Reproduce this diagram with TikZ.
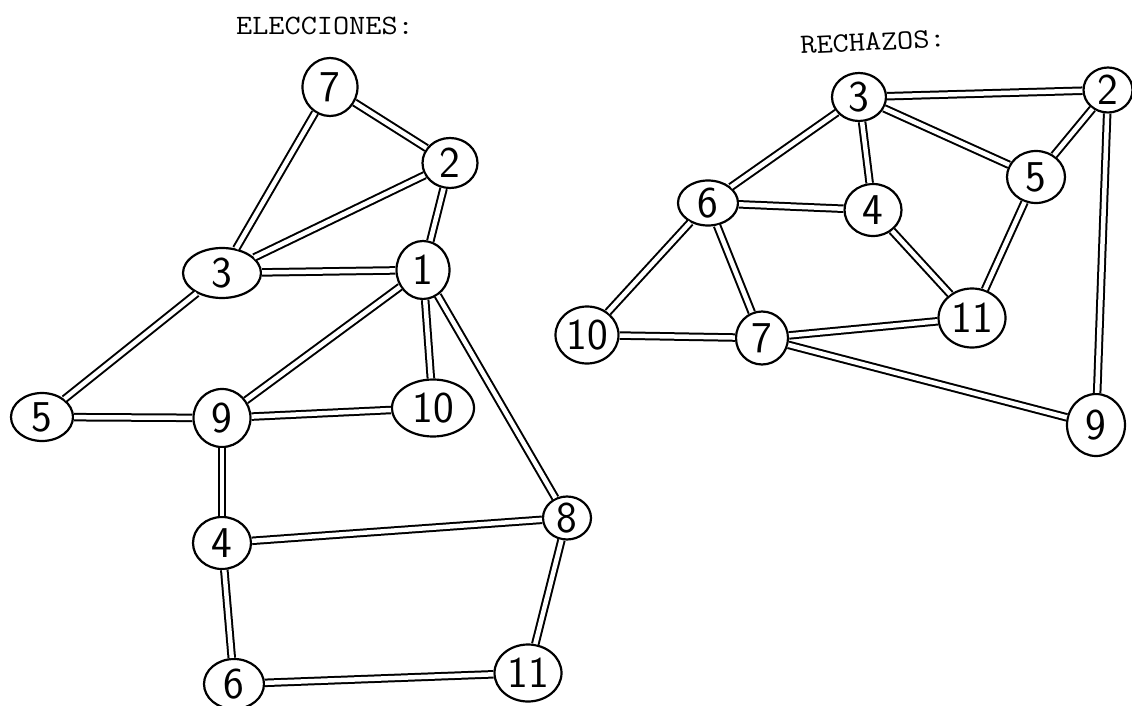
\documentclass[tikz,border=0pt]{standalone}
\usepackage{fontspec}
\usetikzlibrary{shapes.geometric}
\newcommand\vtxnode[6]{\node[vtx,minimum width=#4pt,minimum height=#5pt] (#1) at (#2,#3) {#6};}
\begin{document}
\begin{tikzpicture}[x=1pt,y=-1pt,
  vtx/.style={ellipse, draw=black, line width=2.2pt, fill=white, inner sep=0pt,
    font=\sffamily\fontsize{44}{44}\selectfont},
  edge/.style={draw=black, double=white, line width=2pt, double distance=4.5pt},
  ttl/.style={font=\ttfamily\fontsize{28}{28}\selectfont, xscale=1.12}]
\useasboundingbox (0,0) rectangle (1132,706);
% titles
\node[ttl] (t1) at (325,26) {ELECCIONES:};
\node[ttl, rotate=3] (t2) at (873,42) {RECHAZOS:};
% left graph
\vtxnode{La}{330}{87}{55}{58}{7}
\vtxnode{Lb}{450}{163}{55}{50}{2}
\vtxnode{Lc}{222}{273}{78}{50}{3}
\vtxnode{Ld}{423}{270}{53}{58}{1}
\vtxnode{Le}{42}{417}{62}{48}{5}
\vtxnode{Lf}{222}{418}{57}{58}{9}
\vtxnode{Lg}{433}{408}{82}{57}{10}
\vtxnode{Lh}{222}{543}{58}{52}{4}
\vtxnode{Li}{567}{518}{48}{43}{8}
\vtxnode{Lj}{234}{684}{60}{50}{6}
\vtxnode{Lk}{528}{673}{67}{57}{11}
\draw[edge] (La) -- (Lb);
\draw[edge] (La) -- (Lc);
\draw[edge] (Lb) -- (Lc);
\draw[edge] (Lb) -- (Ld);
\draw[edge] (Lc) -- (Ld);
\draw[edge] (Lc) -- (Le);
\draw[edge] (Ld) -- (Lf);
\draw[edge] (Ld) -- (Lg);
\draw[edge] (Ld) -- (Li);
\draw[edge] (Le) -- (Lf);
\draw[edge] (Lf) -- (Lg);
\draw[edge] (Lf) -- (Lh);
\draw[edge] (Lh) -- (Li);
\draw[edge] (Lh) -- (Lj);
\draw[edge] (Li) -- (Lk);
\draw[edge] (Lj) -- (Lk);
% right graph
\vtxnode{Ra}{859}{97}{54}{48}{3}
\vtxnode{Rb}{1108}{90}{49}{45}{2}
\vtxnode{Rc}{1036}{177}{58}{52}{5}
\vtxnode{Rd}{708}{203}{60}{45}{6}
\vtxnode{Re}{873}{210}{57}{52}{4}
\vtxnode{Rf}{972}{318}{67}{59}{11}
\vtxnode{Rg}{587}{335}{63}{57}{10}
\vtxnode{Rh}{762}{338}{52}{53}{7}
\vtxnode{Ri}{1096}{425}{58}{62}{9}
\draw[edge] (Ra) -- (Rb);
\draw[edge] (Ra) -- (Rd);
\draw[edge] (Ra) -- (Re);
\draw[edge] (Ra) -- (Rc);
\draw[edge] (Rb) -- (Rc);
\draw[edge] (Rb) -- (Ri);
\draw[edge] (Rd) -- (Re);
\draw[edge] (Rd) -- (Rg);
\draw[edge] (Rd) -- (Rh);
\draw[edge] (Re) -- (Rf);
\draw[edge] (Rc) -- (Rf);
\draw[edge] (Rg) -- (Rh);
\draw[edge] (Rh) -- (Rf);
\draw[edge] (Rh) -- (Ri);
\end{tikzpicture}
\end{document}
